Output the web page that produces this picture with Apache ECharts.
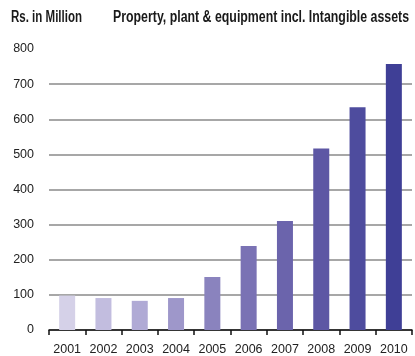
<!DOCTYPE html>
<html>
<head>
<meta charset="utf-8">
<script src="https://cdn.jsdelivr.net/npm/echarts@6/dist/echarts.min.js"></script>
<style>
  html, body { margin: 0; padding: 0; background: #fff; }
  #chart { width: 415px; height: 356px; }
</style>
</head>
<body>
<div id="chart"></div>
<script>
// Property, plant & equipment incl. intangible assets, Rs. in Million
const years = ['2001', '2002', '2003', '2004', '2005', '2006', '2007', '2008', '2009', '2010'];
const values = [98, 91, 83, 91, 151, 239, 310, 517, 634, 757];
const barColors = ['#d5d1e8', '#c2bddf', '#b0aad5', '#9e97ca', '#8a83be', '#7a72b4', '#6b64ac', '#5d57a4', '#4e4c9e', '#3f3f96'];
const yTicks = [0, 100, 200, 300, 400, 500, 600, 700, 800];
const unitLabel = 'Rs. in Million';
const chartTitle = 'Property, plant & equipment incl. Intangible assets';

const labelFont = "'Liberation Sans', Arial, sans-serif";
const titleFontSize = 16;
const titleFontCss = 'bold ' + titleFontSize + 'px ' + labelFont;

// Condensed heading: squeeze the bold text horizontally into a fixed width
function narrowText(text, x, width) {
  const ctx = document.createElement('canvas').getContext('2d');
  ctx.font = titleFontCss;
  const w = ctx.measureText(text).width;
  return {
    type: 'text',
    x: x, y: 10,
    scaleX: width / w,
    originX: 0,
    style: {
      text: text,
      font: titleFontCss,
      fill: '#1a1a1a',
      textVerticalAlign: 'top'
    }
  };
}

const chart = echarts.init(document.getElementById('chart'), null, { renderer: 'canvas' });
chart.setOption({
  animation: false,
  graphic: [
    narrowText(unitLabel, 11, 71),
    narrowText(chartTitle, 113, 296)
  ],
  grid: { left: 49, right: 3, top: 49, bottom: 26, containLabel: false },
  xAxis: {
    type: 'category',
    data: years,
    axisLine: { show: true, lineStyle: { color: '#111', width: 1.5 } },
    axisTick: { show: true, alignWithLabel: false, length: 5, lineStyle: { color: '#111', width: 1.5 } },
    axisLabel: { interval: 0, hideOverlap: false, fontFamily: labelFont, fontSize: 12.5, color: '#222', margin: 13 }
  },
  yAxis: {
    type: 'value',
    min: yTicks[0],
    max: yTicks[yTicks.length - 1],
    interval: 100,
    axisLine: { show: false },
    axisTick: { show: false },
    axisLabel: { fontFamily: labelFont, fontSize: 12.5, color: '#222', margin: 15 },
    splitLine: {
      show: true,
      lineStyle: {
        color: yTicks.map((t, i) => (i === yTicks.length - 1 ? 'rgba(0,0,0,0)' : '#8a8a8a')),
        width: 1.5
      }
    }
  },
  series: [{
    type: 'bar',
    data: values.map((v, i) => ({ value: v, itemStyle: { color: barColors[i] } })),
    barWidth: 16
  }]
});
</script>
</body>
</html>
